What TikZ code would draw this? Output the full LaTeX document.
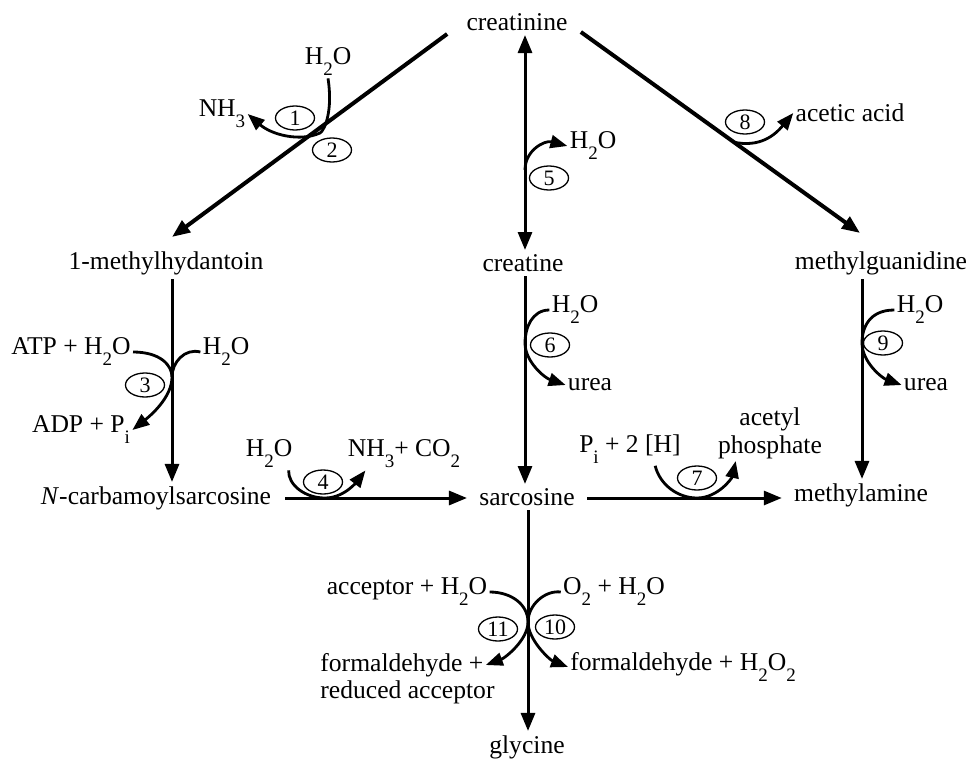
\documentclass[tikz,border=0pt]{standalone}
\usepackage{fontspec}
\setmainfont{Liberation Serif}
\usetikzlibrary{arrows.meta,shapes.geometric}
\newcommand{\lowsub}[1]{\raisebox{-5.5pt}{\fontsize{9.5}{10}\selectfont #1}}

\begin{document}
\begin{tikzpicture}[x=0.5pt,y=-0.5pt,
  cmpd/.style={inner sep=2pt, font=\fontsize{12.8}{14}\selectfont},
  lbl/.style={inner sep=1pt, font=\fontsize{12.8}{14}\selectfont},
  num/.style={draw, ellipse, line width=0.65pt, inner sep=0pt, minimum width=19.5pt, minimum height=12pt, font=\fontsize{11}{12}\selectfont},
  reac/.style={line width=1.5pt, -{Triangle[length=9pt,width=7pt]}},
  side/.style={line width=1.4pt},
  tip/.style={-{Triangle[length=8.5pt,width=6.5pt]}}]
  \useasboundingbox (0,0) rectangle (969,760);

  % compounds
  \node[cmpd] (cre) at (517,22) {creatinine};
  \node[cmpd] (mhy) at (166,263) {1-methylhydantoin};
  \node[cmpd] (crt) at (523,263) {creatine};
  \node[cmpd] (mgu) at (881,263) {methylguanidine};
  \node[cmpd] (ncs) at (156,498) {\textit{N}-carbamoylsarcosine};
  \node[cmpd] (sar) at (527,497) {sarcosine};
  \node[cmpd] (mam) at (861,495) {methylamine};
  \node[cmpd] (gly) at (527,747) {glycine};

  % where the side reactions meet the main arrows
  \coordinate (j1) at (320,133);
  \coordinate (j5) at (525,170);
  \coordinate (j8) at (733,142);
  \coordinate (j3) at (172,377);
  \coordinate (j6) at (525,343);
  \coordinate (j9) at (862,343);
  \coordinate (j4) at (325,498);
  \coordinate (j7) at (697,498);
  \coordinate (j10) at (528,622);

  % co-substrates and products
  \node[lbl] (w1) at (328,62) {H\lowsub{2}O};
  \node[lbl] (n1) at (222,114) {NH\lowsub{3}};
  \node[lbl] (w5) at (593,146) {H\lowsub{2}O};
  \node[lbl] (aa) at (850,113) {acetic acid};
  \node[lbl] (atp) at (71,352) {ATP + H\lowsub{2}O};
  \node[lbl] (w3) at (226,352) {H\lowsub{2}O};
  \node[lbl] (adp) at (81,430) {ADP + P\lowsub{i}};
  \node[lbl] (w6) at (575,310) {H\lowsub{2}O};
  \node[lbl] (u6) at (590,385) {urea};
  \node[lbl] (w9) at (920,310) {H\lowsub{2}O};
  \node[lbl] (u9) at (926,385) {urea};
  \node[lbl] (w4) at (269,454) {H\lowsub{2}O};
  \node[lbl] (nc) at (404,454) {NH\lowsub{3}+ CO\lowsub{2}};
  \node[lbl] (ph) at (630,449) {P\lowsub{i} + 2 [H]};
  \node[lbl, align=center] (ap) at (770,433) {acetyl\\phosphate};
  \node[lbl] (ac) at (407,592) {acceptor + H\lowsub{2}O};
  \node[lbl] (o2) at (614,592) {O\lowsub{2} + H\lowsub{2}O};
  \node[lbl, anchor=west] (fa1) at (318,665) {formaldehyde +};
  \node[lbl, anchor=west] (fa2) at (318,692) {reduced acceptor};
  \node[lbl, anchor=west] (fh) at (568,667) {formaldehyde + H\lowsub{2}O\lowsub{2}};

  % reaction numbers
  \node[num] (r1) at (295,118) {1};
  \node[num] (r2) at (332,150) {2};
  \node[num] (r3) at (145,385) {3};
  \node[num] (r4) at (323,482) {4};
  \node[num] (r5) at (549,178) {5};
  \node[num] (r6) at (550,345) {6};
  \node[num] (r7) at (697,478) {7};
  \node[num] (r8) at (745,122) {8};
  \node[num] (r9) at (883,343) {9};
  \node[num] (r10) at (555,627) {10};
  \node[num] (r11) at (498,629) {11};

  % main arrows
  \draw[reac, line width=2pt] ([shift={(-15,12)}]cre.west) -- ([shift={(6,-10)}]mhy.north);
  \draw[reac, line width=2pt] ([shift={(9,10)}]cre.east) -- ([shift={(-21,-14)}]mgu.north);
  \draw[reac, {Triangle[length=9pt,width=7pt]}-{Triangle[length=9pt,width=7pt]}] (cre.south -| j5) -- (crt.north -| j5);
  \draw[reac] (mhy.south -| j3) -- (ncs.north -| j3);
  \draw[reac] (crt.south -| j6) -- (sar.north -| j6);
  \draw[reac] (mgu.south -| j9) -- (mam.north -| j9);
  \draw[reac] ([xshift=5pt]ncs.east |- j4) -- ([xshift=-4pt]sar.west |- j4);
  \draw[reac] ([xshift=4pt]sar.east |- j7) -- ([xshift=-4pt]mam.west |- j7);
  \draw[reac] (sar.south -| j10) -- (gly.north -| j10);

  % side reactions
  \draw[side, tip] (w1.south) .. controls (333,110) and (325,130) .. (j1)
    .. controls (300,142) and (272,135) .. (n1.east);
  \draw[side, tip] (j5) .. controls (525,150) and (545,140) .. (w5.west);
  \draw[side, tip] (j8) .. controls (760,148) and (775,135) .. (aa.west);
  \draw[side, tip] (atp.east) .. controls (160,352) and (172,365) .. (j3)
    .. controls (172,395) and (155,412) .. (adp.east);
  \draw[side] (w3.west) .. controls (185,348) and (172,362) .. (j3);
  \draw[side, tip] (w6.west) .. controls (532,310) and (525,328) .. (j6)
    .. controls (525,362) and (545,378) .. (u6.west);
  \draw[side, tip] (w9.west) .. controls (869,310) and (862,328) .. (j9)
    .. controls (862,362) and (882,378) .. (u9.west);
  \draw[side, tip] ([xshift=-3pt]w4.south east) .. controls (288,485) and (305,498) .. (j4)
    .. controls (345,498) and (358,480) .. ([xshift=10pt]nc.south west);
  \draw[side, tip] ([xshift=-14pt]ph.south east) .. controls (660,485) and (678,498) .. (j7)
    .. controls (718,498) and (732,478) .. ([xshift=10pt]ap.south west);
  \draw[side, tip] (ac.east) .. controls (512,592) and (528,605) .. (j10)
    .. controls (528,640) and (505,658) .. (fa1.east);
  \draw[side, tip] (o2.west) .. controls (545,590) and (528,605) .. (j10)
    .. controls (528,640) and (550,660) .. (fh.west);
\end{tikzpicture}
\end{document}
